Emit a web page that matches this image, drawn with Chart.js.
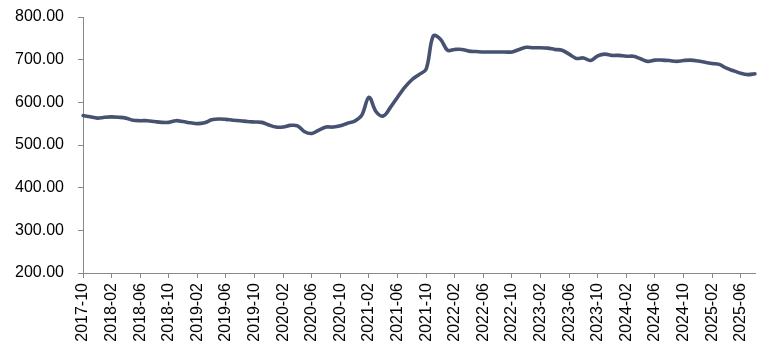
<!DOCTYPE html>
<html>
<head>
<meta charset="utf-8">
<script src="https://cdn.jsdelivr.net/npm/chart.js@4/dist/chart.umd.min.js"></script>
<style>
html,body{margin:0;padding:0;background:#fff;}
#wrap{width:779px;height:349px;}
</style>
</head>
<body>
<div id="wrap"><canvas id="c" width="779" height="349"></canvas></div>
<script>
const months = [
"2017-10","2017-11","2017-12",
"2018-01","2018-02","2018-03","2018-04","2018-05","2018-06","2018-07","2018-08","2018-09","2018-10","2018-11","2018-12",
"2019-01","2019-02","2019-03","2019-04","2019-05","2019-06","2019-07","2019-08","2019-09","2019-10","2019-11","2019-12",
"2020-01","2020-02","2020-03","2020-04","2020-05","2020-06","2020-07","2020-08","2020-09","2020-10","2020-11","2020-12",
"2021-01","2021-02","2021-03","2021-04","2021-05","2021-06","2021-07","2021-08","2021-09","2021-10","2021-11","2021-12",
"2022-01","2022-02","2022-03","2022-04","2022-05","2022-06","2022-07","2022-08","2022-09","2022-10","2022-11","2022-12",
"2023-01","2023-02","2023-03","2023-04","2023-05","2023-06","2023-07","2023-08","2023-09","2023-10","2023-11","2023-12",
"2024-01","2024-02","2024-03","2024-04","2024-05","2024-06","2024-07","2024-08","2024-09","2024-10","2024-11","2024-12",
"2025-01","2025-02","2025-03","2025-04","2025-05","2025-06","2025-07","2025-08"
];
const values = [
569,566,563,
565,566,565,563,558,557,557,555,553,553,557,555,
552,550,552,559,561,560,558,557,555,554,553,547,
542,542,546,545,531,527,535,542,542,545,551,556,
570,612,578,568,588,612,635,653,665,678,756,748,
722,724,724,720,719,718,718,718,718,718,724,729,
728,728,727,724,722,713,703,704,698,709,713,710,
710,708,708,702,696,699,699,698,696,698,699,697,
694,691,689,680,674,668,665,667
];
const yTicks = [200,300,400,500,600,700,800];
const labelEvery = 4;

const font = {family:"'Liberation Sans', Arial, sans-serif", size:16};
new Chart(document.getElementById('c'), {
  type:'line',
  data:{labels:months, datasets:[{
    data:values, borderColor:'#475272', borderWidth:3.6, pointRadius:0,
    tension:0.35, fill:false, borderCapStyle:'round', borderJoinStyle:'round'
  }]},
  options:{
    responsive:false, animation:false,
    layout:{padding:{top:17,right:24,bottom:0,left:0}},
    plugins:{legend:{display:false}, tooltip:{enabled:false}},
    scales:{
      x:{
        offset:false,
        afterFit:function(s){ s.height = 76; s.paddingLeft = 0; s.paddingRight = 0; },
        border:{display:true,color:'#888',width:1},
        grid:{display:true,drawOnChartArea:false,drawTicks:true,tickLength:5,color:'#888'},
        ticks:{
          autoSkip:false, minRotation:90, maxRotation:90, padding:5,
          color:'#000', font:font,
          callback:function(v,i){ return i % labelEvery === 0 ? months[i] : null; }
        }
      },
      y:{
        min:yTicks[0], max:yTicks[yTicks.length-1],
        afterFit:function(s){ s.width = 83; s.paddingTop = 0; s.paddingBottom = 0; },
        afterBuildTicks:function(ax){ ax.ticks = yTicks.map(v=>({value:v})); },
        border:{display:true,color:'#888',width:1},
        grid:{display:true,drawOnChartArea:false,drawTicks:true,tickLength:5,color:'#888'},
        ticks:{padding:14,color:'#000',font:font,
          callback:function(v){ return Number(v).toFixed(2); }}
      }
    }
  }
});
</script>
</body>
</html>
